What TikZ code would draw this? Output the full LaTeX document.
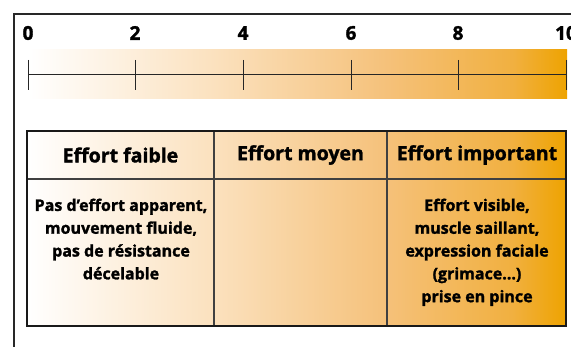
\documentclass[tikz,border=0pt]{standalone}
\usepackage{fontspec}
\setmainfont{Open Sans}[BoldFeatures={FakeBold=1.6}]
\definecolor{ga}{RGB}{251,225,190}
\definecolor{gb}{RGB}{245,193,122}
\definecolor{gc}{RGB}{241,176,64}
\definecolor{gd}{RGB}{238,163,0}
\definecolor{framec}{RGB}{40,40,40}
\pgfdeclarehorizontalshading{effgrad}{100bp}{color(0bp)=(white); color(25bp)=(white); color(42.3bp)=(ga); color(58.3bp)=(gb); color(70bp)=(gc); color(75bp)=(gd); color(100bp)=(gd)}
\begin{document}
\begin{tikzpicture}[x=1pt,y=-1pt,
  num/.style={font=\bfseries\fontsize{19}{20}\selectfont, inner sep=0pt},
  head/.style={font=\bfseries\fontsize{19.5}{22}\selectfont, inner sep=0pt},
  body/.style={font=\bfseries\fontsize{16}{22.8}\selectfont, align=center, inner sep=0pt, anchor=north},
  axisline/.style={line width=1pt, draw=black!85},
  outer/.style={line width=1.8pt, draw=black!90},
  inner/.style={line width=1.3pt, draw=black!75}]
\useasboundingbox (0,0) rectangle (571,347);
% frame
\coordinate (fl) at (14,347);
\coordinate (fc) at (14,14);
\coordinate (fr) at (571,14);
\draw[line width=1.2pt, framec] (fl) -- (fc) -- (fr);
% gradient bar
\shade[shading=effgrad] (28,50) rectangle (567,99);
% axis
\foreach \v/\x in {0/28,2/135,4/243,6/351,8/458,10/566}{
  \coordinate (t\v a) at (\x,60);
  \coordinate (t\v b) at (\x,90);
  \coordinate (m\v) at (\x,75);
  \draw[axisline] (t\v a) -- (t\v b);
  \node[num] (n\v) at (\x,33) {\v};
}
\draw[axisline] (m0) -- (m10);
% table
\shade[shading=effgrad] (27,131) rectangle (566,326);
\coordinate (tl) at (27,131);
\coordinate (tr) at (566,131);
\coordinate (bl) at (27,326);
\coordinate (br) at (566,326);
\coordinate (hl) at (27,179);
\coordinate (hr) at (566,179);
\coordinate (c1t) at (214,131);
\coordinate (c1b) at (214,326);
\coordinate (c2t) at (387,131);
\coordinate (c2b) at (387,326);
\draw[inner] (hl) -- (hr);
\draw[inner] (c1t) -- (c1b);
\draw[inner] (c2t) -- (c2b);
\draw[outer] (tl) -- (tr) -- (br) -- (bl) -- cycle;
\node[head] (h1) at (120.5,155) {Effort faible};
\node[head] (h2) at (300.5,155) {Effort moyen};
\node[head] (h3) at (477,155) {Effort important};
\node[body] (b1) at (121,198.5) {Pas d'effort apparent,\\mouvement fluide,\\pas de résistance\\décelable};
\node[body] (b3) at (477,198.5) {Effort visible,\\muscle saillant,\\expression faciale\\(grimace…)\\prise en pince};
\end{tikzpicture}
\end{document}
